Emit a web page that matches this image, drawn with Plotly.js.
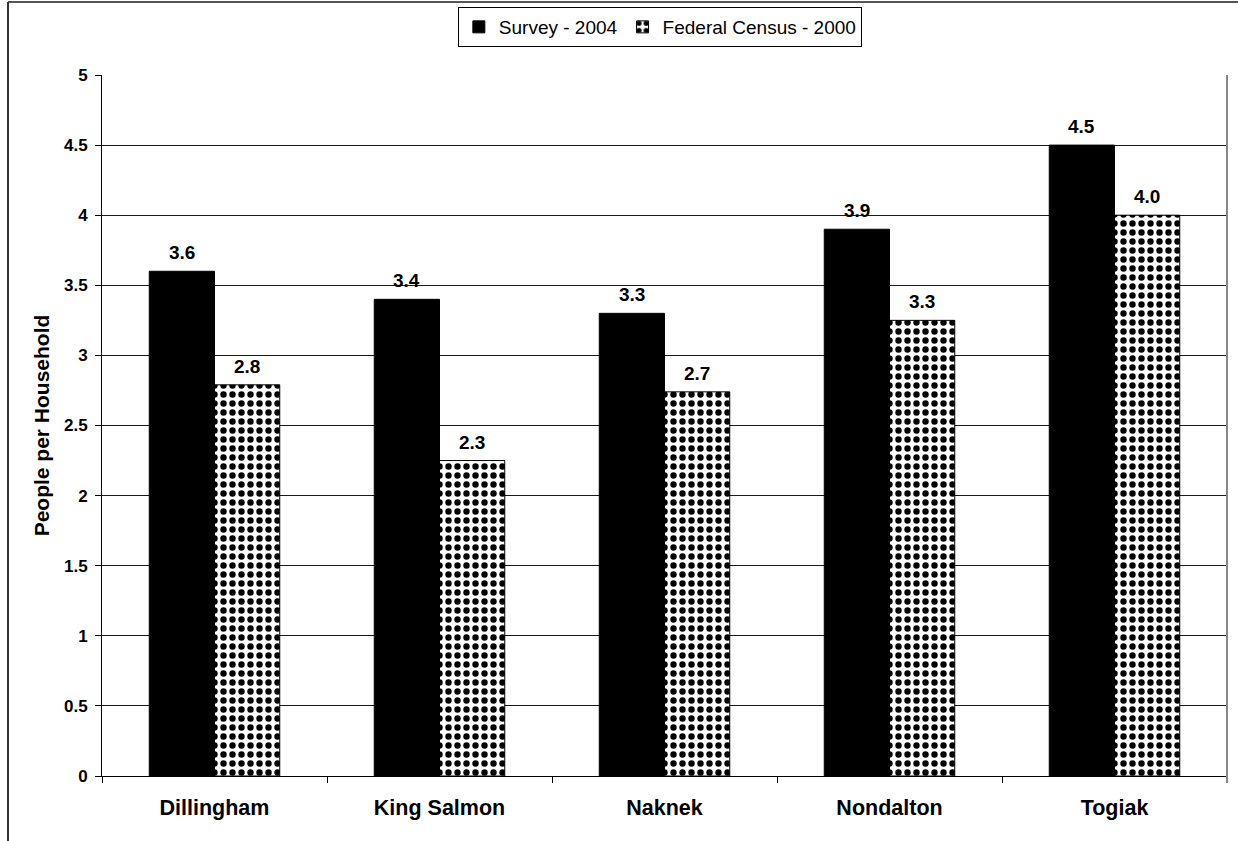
<!DOCTYPE html>
<html>
<head>
<meta charset="utf-8">
<script src="https://cdn.plot.ly/plotly-3.0.1.min.js"></script>
<style>
  html, body { margin: 0; padding: 0; background: #fff; }
  #chart { width: 1238px; height: 841px; }
</style>
</head>
<body>
<div id="chart"></div>
<script>
// Household size by community
const communities = ['Dillingham', 'King Salmon', 'Naknek', 'Nondalton', 'Togiak'];
const survey2004 = [3.6, 3.4, 3.3, 3.9, 4.5];
const census2000 = [2.79, 2.25, 2.74, 3.25, 4.0];
const seriesNames = ['Survey - 2004', 'Federal Census - 2000'];
const yTicks = [0, 0.5, 1, 1.5, 2, 2.5, 3, 3.5, 4, 4.5, 5];
const yTickText = ['0', '0.5', '1', '1.5', '2', '2.5', '3', '3.5', '4', '4.5', '5'];

const FONT = 'Arial, "Liberation Sans", sans-serif';
const W = 1238, H = 841;
const margin = { l: 102, r: 11, t: 75, b: 65 };
const plotW = W - margin.l - margin.r;
const plotH = H - margin.t - margin.b;
// convert page pixels to paper coordinates for the frame lines
const px = x => (x - margin.l) / plotW;
const py = y => (H - margin.b - y) / plotH;

const bargap = 0.42;
const barPx = plotW / communities.length * (1 - bargap) / 2;

const traces = [
  {
    type: 'bar', name: seriesNames[0], x: communities, y: survey2004,
    marker: { color: '#000000', line: { color: '#000000', width: 1 } },
    hoverinfo: 'x+y'
  },
  {
    type: 'bar', name: seriesNames[1], x: communities, y: census2000,
    marker: {
      color: '#ffffff',
      line: { color: '#000000', width: 1 },
      pattern: { shape: '.', fgcolor: '#000000', bgcolor: '#ffffff', size: 9, solidity: 0.4 }
    },
    hoverinfo: 'x+y'
  }
];

// value labels above each bar
const labelFont = { family: FONT, size: 19, color: '#000', weight: 'bold' };
const annotations = [];
[survey2004, census2000].forEach((vals, si) => {
  vals.forEach((v, i) => {
    annotations.push({
      x: communities[i], y: v, xref: 'x', yref: 'y',
      text: v.toFixed(1), showarrow: false,
      xshift: (si === 0 ? -1 : 1) * barPx / 2,
      yanchor: 'bottom', yshift: 6,
      font: labelFont
    });
  });
});

const frame = { type: 'line', xref: 'paper', yref: 'paper', layer: 'above' };
const shapes = [
  // outer frame (top and left edges)
  Object.assign({}, frame, { x0: px(8), x1: px(W), y0: py(2), y1: py(2), line: { color: '#555', width: 2 } }),
  Object.assign({}, frame, { x0: px(8), x1: px(8), y0: py(2), y1: py(H), line: { color: '#333', width: 2 } }),
  // right edge of the plotting area
  Object.assign({}, frame, { x0: 1, x1: 1, y0: py(783), y1: 1, line: { color: '#888', width: 2 } })
];

const layout = {
  width: W, height: H,
  margin: margin,
  paper_bgcolor: '#ffffff', plot_bgcolor: '#ffffff',
  font: { family: FONT, color: '#000' },
  barmode: 'group', bargap: bargap, bargroupgap: 0,
  showlegend: true,
  legend: {
    orientation: 'h',
    xref: 'container', yref: 'container',
    x: 0.533, xanchor: 'center', y: 1 - 7 / H, yanchor: 'top',
    bordercolor: '#000', borderwidth: 1, bgcolor: '#fff',
    font: { family: FONT, size: 19, color: '#000' },
    itemwidth: 30, tracegroupgap: 0
  },
  xaxis: {
    type: 'category',
    showline: true, linecolor: '#000', linewidth: 1,
    ticks: 'outside', tickson: 'boundaries', ticklen: 6, tickcolor: '#000',
    ticklabelstandoff: 12,
    tickfont: { family: FONT, size: 21.5, color: '#000', weight: 'bold' },
    showgrid: false, zeroline: false, fixedrange: true
  },
  yaxis: {
    range: [0, 5], tickvals: yTicks, ticktext: yTickText,
    showline: true, linecolor: '#000', linewidth: 1,
    ticks: 'outside', ticklen: 6, tickcolor: '#000',
    ticklabelstandoff: 4,
    tickfont: { family: FONT, size: 17, color: '#000', weight: 'bold' },
    showgrid: true, gridcolor: '#1a1a1a', gridwidth: 1,
    zeroline: false, fixedrange: true,
    title: { text: 'People per Household', standoff: 8,
             font: { family: FONT, size: 21, color: '#000', weight: 'bold' } }
  },
  annotations: annotations,
  shapes: shapes
};

Plotly.newPlot('chart', traces, layout, { displayModeBar: false, staticPlot: true });
</script>
</body>
</html>
